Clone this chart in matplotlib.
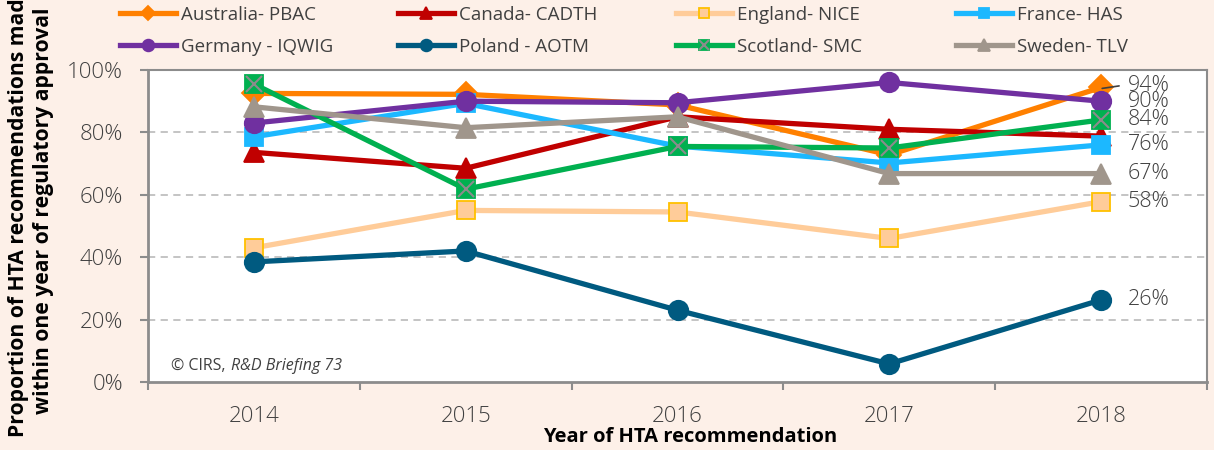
import matplotlib
matplotlib.use("Agg")
import matplotlib.pyplot as plt
from matplotlib.legend_handler import HandlerTuple
import numpy as np

# Daten
years = ['2014', '2015', '2016', '2017', '2018']
australia = [92.5, 92.2, 88.8, 72.8, 94.4]
canada = [73.6, 68.5, 85.0, 81.0, 78.8]
england = [43.0, 55.0, 54.5, 46.0, 57.8]
france = [78.6, 89.3, 75.6, 70.2, 76.0]
germany = [83.0, 90.0, 89.5, 96.0, 90.0]
poland = [38.5, 42.0, 23.0, 5.8, 26.3]
scotland = [95.5, 61.8, 75.5, 75.0, 84.0]
sweden = [88.2, 81.5, 85.0, 66.8, 66.8]

names = ['Australia- PBAC', 'Canada- CADTH', 'England- NICE', 'France- HAS',
         'Germany - IQWIG', 'Poland - AOTM', 'Scotland- SMC', 'Sweden- TLV']
series = [australia, canada, england, france, germany, poland, scotland, sweden]
labelled = ['Australia- PBAC', 'Germany - IQWIG', 'Scotland- SMC', 'France- HAS',
            'Sweden- TLV', 'England- NICE', 'Poland - AOTM']

# Stil je Serie: Linienfarbe, Marker, Markerfläche, Markerrand, Markergröße
styles = {
    'Australia- PBAC': ('#ff8000', 'D', '#ff8000', '#ff8000', 12),
    'Canada- CADTH': ('#c00000', '^', '#c00000', '#c00000', 14),
    'England- NICE': ('#ffcc99', 's', '#ffcc99', '#ffc000', 13),
    'France- HAS': ('#1cb8ff', 's', '#1cb8ff', '#1cb8ff', 13),
    'Germany - IQWIG': ('#7030a0', 'o', '#7030a0', '#7030a0', 14),
    'Poland - AOTM': ('#005a80', 'o', '#005a80', '#005a80', 14),
    'Scotland- SMC': ('#00b050', 's', '#00b050', '#00b050', 13),
    'Sweden- TLV': ('#a0968c', '^', '#a0968c', '#a0968c', 14),
}

bg = '#fdf0e8'
txt = '#404040'
plt.rcParams['font.family'] = ['Open Sans', 'DejaVu Sans']

fig = plt.figure(figsize=(12.14, 4.5), dpi=100, facecolor=bg)
ax = fig.add_axes([148 / 1214, 1 - 382 / 450, 1059 / 1214, 312 / 450])
ax.set_facecolor('white')

x = np.arange(len(years))
handles = {}
for name, vals in zip(names, series):
    col, mk, fc, ec, ms = styles[name]
    ln, = ax.plot(x, vals, color=col, lw=3.8, marker=mk, markersize=ms,
                  markerfacecolor=fc, markeredgecolor=ec, markeredgewidth=1.3,
                  solid_joinstyle='round', clip_on=False)
    handles[name] = ln
    if name == 'Scotland- SMC':
        xl, = ax.plot(x, vals, ls='none', marker='x', markersize=11,
                      markeredgecolor='#8c8c8c', markeredgewidth=1.5, clip_on=False)
        handles[name] = (ln, xl)

# Datenbeschriftungen am letzten Jahr
for name, vals in zip(names, series):
    if name not in labelled:
        continue
    v = vals[-1]
    dy = 0
    if name == 'Australia- PBAC':
        dy = 1.5
        ax.annotate('', xy=(4.005, v - 0.3), xytext=(4.085, v + 0.5),
                    arrowprops=dict(arrowstyle='-', color=txt, lw=1.2,
                                    shrinkA=0, shrinkB=0))
    ax.annotate(f'{round(v)}%', xy=(4, v), xytext=(19, dy), textcoords='offset points',
                ha='left', va='center', fontsize=15.5, color=txt, fontweight=300)

ax.set_xlim(-0.5, 4.5)
ax.set_ylim(0, 100)
ax.set_xticks(x)
ax.set_xticklabels(years, fontweight=300)
ax.set_xticks(np.arange(-0.5, 5, 1), minor=True)
ax.set_yticks(np.arange(0, 101, 20))
ax.set_yticklabels([f'{t}%' for t in range(0, 101, 20)], fontweight=300)
ax.tick_params(axis='x', which='major', length=0, pad=17, labelsize=16, labelcolor=txt)
ax.tick_params(axis='x', which='minor', length=6, width=1.5, color='#8c8c8c', direction='out')
ax.tick_params(axis='y', length=6, width=1.5, color='#8c8c8c', pad=12,
               labelsize=16, labelcolor=txt)
for y in range(20, 100, 20):
    ax.axhline(y, color='#bfbfbf', lw=1.3, ls=(0, (4, 3)), zorder=0)
for s in ax.spines.values():
    s.set_color('#8c8c8c')
    s.set_linewidth(1.5)
ax.spines['left'].set_linewidth(2)
ax.spines['bottom'].set_linewidth(2)

# Quelle
t1 = ax.text(0.022, 0.05, '© CIRS,', transform=ax.transAxes, fontsize=11.5,
             color=txt, ha='left', va='center')
ax.annotate('R&D Briefing 73', xy=(1, 0.5), xycoords=t1, xytext=(3.5, 0),
            textcoords='offset points', fontsize=11.5, color=txt, ha='left',
            va='center', style='italic')

# Achsentitel
fig.text(31 / 1214, 1 - 211 / 450,
         'Proportion of HTA recommendations made\nwithin one year of regulatory approval',
         rotation=90, ha='center', va='center', fontsize=15.2, fontweight='bold',
         color='black', linespacing=1.3)
fig.text(690 / 1214, 1 - 437 / 450, 'Year of HTA recommendation', ha='center',
         va='center', fontsize=14.5, fontweight='bold', color='black')

# Legende: vier Spalten, je zwei Einträge
col_x = [118, 396, 674, 954]
for i in range(4):
    hs = [handles[names[i]], handles[names[i + 4]]]
    fig.legend(hs, [names[i], names[i + 4]], loc='upper left',
               bbox_to_anchor=(col_x[i] / 1214, 1 - 4 / 450), frameon=False,
               fontsize=13.5, labelcolor=txt, handlelength=3.0,
               handletextpad=0.25, markerscale=0.6, labelspacing=0.75,
               borderaxespad=0.0, borderpad=0.1,
               handler_map={tuple: HandlerTuple(ndivide=1)})

fig.savefig('out.png', dpi=100, facecolor=bg)
